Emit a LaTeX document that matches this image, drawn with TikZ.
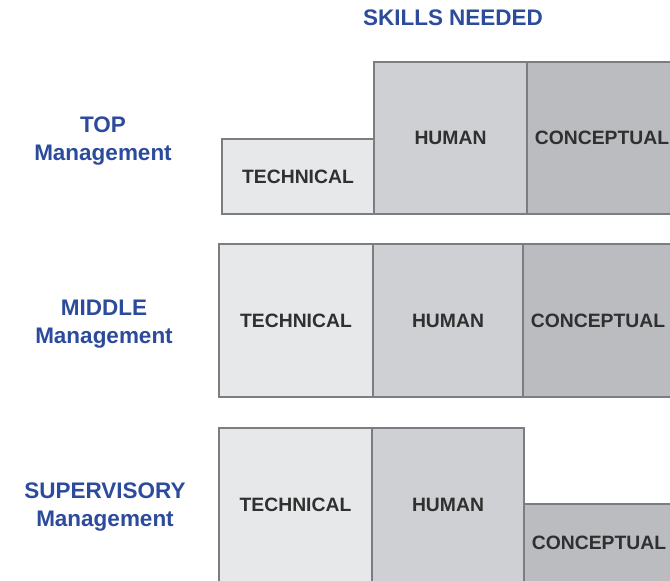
\documentclass[tikz,border=0pt]{standalone}
\usepackage{fontspec}
\setmainfont{Liberation Sans}
\definecolor{techfill}{HTML}{E7E8EA}
\definecolor{humanfill}{HTML}{CFD0D3}
\definecolor{conceptfill}{HTML}{BBBCBF}
\definecolor{boxline}{HTML}{7C7D80}
\definecolor{boxtext}{HTML}{303030}
\definecolor{levelblue}{HTML}{2C4B9C}
\begin{document}
\begin{tikzpicture}[x=0.03cm, y=-0.03cm,
    skill/.style={draw=boxline, line width=1.3pt, inner sep=0pt, text=boxtext,
      font=\fontsize{16.5}{18}\selectfont\bfseries},
    tech/.style={skill, fill=techfill},
    human/.style={skill, fill=humanfill},
    concept/.style={skill, fill=conceptfill},
    level/.style={text=levelblue, align=center, anchor=base,
      font=\fontsize{19.2}{23.6}\selectfont\bfseries}]

        \useasboundingbox (0,0) rectangle (670,580);
        \clip (0,0) rectangle (670,580);

        \node[level] (title) at (453,25) {SKILLS NEEDED};

        % top management
        \node[level] (top) at (103,160) {TOP\\Management};
        \node[tech, minimum width=4.56cm, minimum height=2.25cm] (toptech) at (298,176.5) {TECHNICAL};
        \node[human, minimum width=4.59cm, minimum height=4.56cm] (tophuman) at (450.5,138) {HUMAN};
        \node[concept, minimum width=4.5cm, minimum height=4.56cm] (topconcept) at (602,138) {CONCEPTUAL};

        % middle management
        \node[level] (middle) at (104,343) {MIDDLE\\Management};
        \node[tech, minimum width=4.62cm, minimum height=4.59cm] (midtech) at (296,320.5) {TECHNICAL};
        \node[human, minimum width=4.5cm, minimum height=4.59cm] (midhuman) at (448,320.5) {HUMAN};
        \node[concept, minimum width=4.5cm, minimum height=4.59cm] (midconcept) at (598,320.5) {CONCEPTUAL};

        % supervisory management
        \node[level] (super) at (105,526) {SUPERVISORY\\Management};
        \node[tech, minimum width=4.59cm, minimum height=4.62cm] (suptech) at (295.5,505) {TECHNICAL};
        \node[human, minimum width=4.56cm, minimum height=4.62cm] (suphuman) at (448,505) {HUMAN};
        \node[concept, minimum width=4.5cm, minimum height=2.34cm] (supconcept) at (599,543) {CONCEPTUAL};
\end{tikzpicture}
\end{document}
